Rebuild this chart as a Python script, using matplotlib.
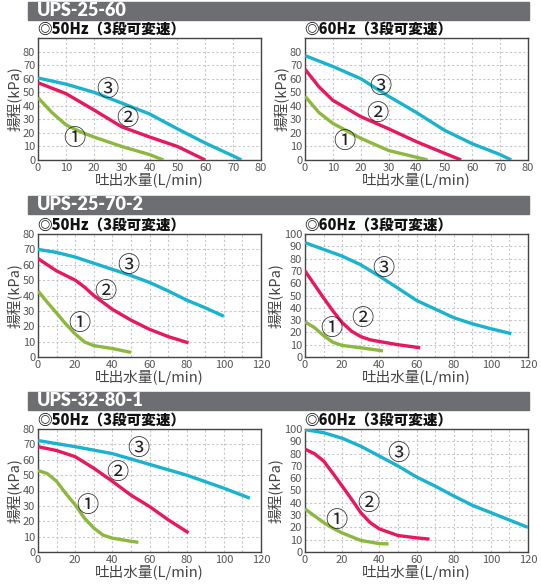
import matplotlib
matplotlib.use("Agg")
import matplotlib.pyplot as plt
from matplotlib.ticker import MultipleLocator

plt.rcParams['font.family'] = ['Noto Sans CJK JP', 'DejaVu Sans']

# --- data (flow L/min, head kPa) ---
models = ["UPS-25-60", "UPS-25-70-2", "UPS-32-80-1"]

# UPS-25-60 50Hz
a50_x1 = [0, 5, 10, 15, 20, 30, 40, 45]
a50_y1 = [46, 35, 26, 21, 17, 10, 4, 0]
a50_x2 = [0, 10, 20, 30, 40, 50, 60]
a50_y2 = [57, 49, 37, 24.5, 17, 10, 0]
a50_x3 = [0, 10, 20, 30, 40, 50, 60, 70, 73]
a50_y3 = [60.5, 56, 50, 42, 34, 23, 12.5, 3, 0]
# UPS-25-60 60Hz
a60_x1 = [0, 5, 10, 20, 30, 40, 44]
a60_y1 = [47, 35, 27, 16, 7, 2, 0]
a60_x2 = [0, 5, 10, 20, 30, 40, 50, 56]
a60_y2 = [67, 54, 44, 32, 23, 13.5, 5, 0]
a60_x3 = [0, 10, 20, 30, 40, 50, 60, 70, 74]
a60_y3 = [77, 69, 60, 47, 35, 22, 12, 4, 0]

# UPS-25-70-2 50Hz
b50_x1 = [0, 5, 10, 15, 20, 25, 30, 40, 50]
b50_y1 = [43, 35.6, 28.6, 21.4, 15, 9.8, 7.4, 5.5, 3]
b50_x2 = [0, 10, 20, 25, 30, 40, 50, 60, 70, 81]
b50_y2 = [64, 56, 50, 45.5, 40, 31, 24, 18, 13.3, 9.2]
b50_x3 = [0, 10, 20, 30, 40, 50, 60, 70, 80, 90, 100]
b50_y3 = [70, 68, 65, 61, 57, 53, 48.5, 43, 37, 32, 26.5]
# UPS-25-70-2 60Hz
b60_x1 = [0, 5, 10, 15, 20, 30, 42]
b60_y1 = [28.5, 24, 17.4, 12, 9.4, 7.5, 5]
b60_x2 = [0, 5, 10, 15, 20, 25, 30, 35, 40, 50, 62]
b60_y2 = [70, 59, 48, 37.5, 28, 21, 16.6, 14, 12.6, 10, 7.5]
b60_x3 = [0, 20, 30, 40, 50, 60, 70, 80, 90, 100, 111]
b60_y3 = [93, 82, 75, 65.7, 56, 46, 39, 32, 27, 23, 19]

# UPS-32-80-1 50Hz
c50_x1 = [0, 5, 10, 15, 20, 25, 30, 35, 40, 50, 54]
c50_y1 = [53, 51, 46, 38, 30.7, 22, 15.6, 11, 9, 7, 6.3]
c50_x2 = [0, 10, 20, 30, 40, 50, 60, 70, 81]
c50_y2 = [68.5, 66, 62, 54.5, 46, 37, 29.6, 21, 12.5]
c50_x3 = [0, 20, 40, 50, 60, 80, 100, 114]
c50_y3 = [72.5, 68.5, 64, 60.5, 57, 50, 41.5, 35]
# UPS-32-80-1 60Hz
c60_x1 = [0, 5, 10, 15, 20, 30, 40, 45]
c60_y1 = [35, 29.5, 24, 19.3, 15.5, 9.4, 6.8, 6.6]
c60_x2 = [0, 5, 10, 15, 20, 25, 30, 35, 40, 50, 60, 67]
c60_y2 = [83.6, 80, 74, 64, 53.6, 43, 32, 24, 18.8, 13.4, 11.5, 10.5]
c60_x3 = [0, 10, 20, 30, 40, 50, 60, 70, 80, 90, 100, 110, 120]
c60_y3 = [99.5, 97, 92.5, 86, 78, 70, 61, 53.6, 45.6, 38, 32, 26, 20]

# label anchor (x, y) for ① ② ③ in each panel
lab_a50 = [(13, 16), (32, 30.5), (25, 52)]
lab_a60 = [(14, 13.5), (26, 34), (27, 54)]
lab_b50 = [(22.5, 22), (36.5, 42.5), (48.5, 59.5)]
lab_b60 = [(14, 23), (31, 31), (42, 72)]
lab_c50 = [(26.5, 30.5), (42.5, 51.5), (54, 67.5)]
lab_c60 = [(17, 26), (34, 39.5), (50, 80)]

panels = [
    # (row, col, freq, curves, labels, xmax, xstep, ymax, ytickmax)
    (0, 0, "50Hz", [(a50_x1, a50_y1), (a50_x2, a50_y2), (a50_x3, a50_y3)], lab_a50, 80, 10, 90, 80),
    (0, 1, "60Hz", [(a60_x1, a60_y1), (a60_x2, a60_y2), (a60_x3, a60_y3)], lab_a60, 80, 10, 90, 80),
    (1, 0, "50Hz", [(b50_x1, b50_y1), (b50_x2, b50_y2), (b50_x3, b50_y3)], lab_b50, 120, 20, 80, 80),
    (1, 1, "60Hz", [(b60_x1, b60_y1), (b60_x2, b60_y2), (b60_x3, b60_y3)], lab_b60, 120, 20, 100, 100),
    (2, 0, "50Hz", [(c50_x1, c50_y1), (c50_x2, c50_y2), (c50_x3, c50_y3)], lab_c50, 120, 20, 80, 80),
    (2, 1, "60Hz", [(c60_x1, c60_y1), (c60_x2, c60_y2), (c60_x3, c60_y3)], lab_c60, 120, 20, 100, 100),
]

colors = ["#8cb83e", "#e8185e", "#19b3cf"]
circ = ["①", "②", "③"]

W, H = 541, 585
fig = plt.figure(figsize=(W / 100, H / 100), dpi=100)

# pixel boxes: (left, right) per column, (top, bottom) per row
cols = [(38, 261), (305, 528)]
rows = [(38, 160), (234, 357), (429, 552)]
bars = [(2, 20), (196, 214), (392, 410)]

for i, (top, bot) in enumerate(bars):
    fig.patches.append(plt.Rectangle((28 / W, 1 - bot / H), (529 - 28) / W, (bot - top) / H,
                                     transform=fig.transFigure, color="#6d6e71", zorder=0))
    fig.text(37 / W, 1 - (top + bot) / 2 / H, models[i], color="white", fontsize=13,
             fontweight="heavy", family=["Lato", "DejaVu Sans"], va="center", ha="left")

for r, c, freq, curves, labs, xmax, xstep, ymax, ytop in panels:
    l, rt = cols[c]
    t, b = rows[r]
    ax = fig.add_axes([l / W, 1 - b / H, (rt - l) / W, (b - t) / H])
    for (xs, ys), col in zip(curves, colors):
        ax.plot(xs, ys, color=col, lw=2.4, solid_capstyle="butt", solid_joinstyle="round", zorder=3)
    for (lx, ly), s in zip(labs, circ):
        ax.text(lx, ly, s, fontsize=16, ha="center", va="center", color="#222", zorder=4)
    ax.set_xlim(0, xmax)
    ax.set_ylim(0, ymax)
    ax.xaxis.set_major_locator(MultipleLocator(xstep))
    ax.xaxis.set_minor_locator(MultipleLocator(10))
    ax.set_yticks(range(0, ytop + 1, 10))
    ax.yaxis.set_minor_locator(MultipleLocator(10))
    ax.grid(True, which="both", color="#c8c8c8", lw=0.8, ls=(0, (2, 2)))
    ax.tick_params(which="both", length=0, labelsize=8, labelcolor="#555", pad=2)
    for sp in ax.spines.values():
        sp.set_color("#444")
        sp.set_linewidth(1)
    ax.set_xlabel("吐出水量(L/min)", fontsize=10.5, color="#444", labelpad=0)
    ax.set_ylabel("揚程(kPa)", fontsize=10.5, color="#444", labelpad=0)
    fig.text(l / W - 1 / W, 1 - (t - 8) / H, "◎" + freq + "（3段可変速）", fontsize=10.5,
             fontweight="heavy", va="center", ha="left", color="#111")

fig.savefig("out.png", dpi=100)
